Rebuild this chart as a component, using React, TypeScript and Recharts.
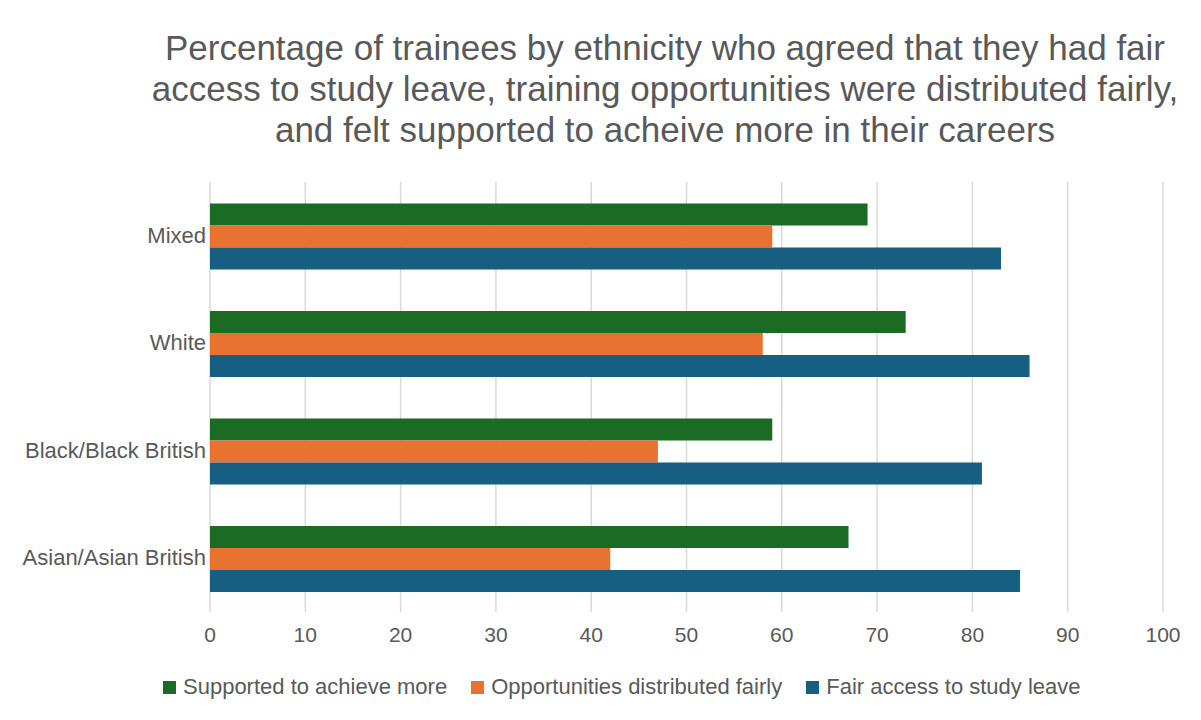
import React from 'react';
import { BarChart, Bar, XAxis, YAxis, CartesianGrid, Legend } from 'recharts';

const categories = ['Mixed', 'White', 'Black/Black British', 'Asian/Asian British'];
const supportedValues = [69, 73, 59, 67];
const opportunitiesValues = [59, 58, 47, 42];
const fairAccessValues = [83, 86, 81, 85];
const xTicks = [0, 10, 20, 30, 40, 50, 60, 70, 80, 90, 100];
const seriesNames = ['Supported to achieve more', 'Opportunities distributed fairly', 'Fair access to study leave'];
const seriesKeys = ['supported', 'opportunities', 'fairAccess'];
const seriesColors = ['#1B6B24', '#E87230', '#175F82'];
const titleLines = [
  'Percentage of trainees by ethnicity who agreed that they had fair',
  'access to study leave, training opportunities were distributed fairly,',
  'and felt supported to acheive more in their careers',
];

const data = categories.map((name, i) => ({
  name,
  supported: supportedValues[i],
  opportunities: opportunitiesValues[i],
  fairAccess: fairAccessValues[i],
}));

const FONT = '"Liberation Sans", Arial, Helvetica, sans-serif';
const TEXT = '#595959';

const LegendContent = () => (
  <div style={{ display: 'flex', justifyContent: 'flex-start', alignItems: 'center', paddingLeft: 163, fontFamily: FONT, fontSize: 22, color: TEXT }}>
    {seriesNames.map((n, i) => (
      <div key={n} style={{ display: 'flex', alignItems: 'center', marginRight: 24 }}>
        <span style={{ display: 'inline-block', width: 13, height: 13, background: seriesColors[i], marginRight: 7 }} />
        <span>{n}</span>
      </div>
    ))}
  </div>
);

export default function App() {
  return (
    <div style={{ position: 'relative', width: 1201, height: 720, margin: -8, background: '#fff', overflow: 'hidden', fontFamily: FONT }}>
      <div style={{ position: 'absolute', left: 6, top: 6, width: 1195, height: 2, background: '#e3e3e3' }} />
      <div style={{ position: 'absolute', left: 6, top: 6, width: 2, height: 714, background: '#e3e3e3' }} />
      <div style={{ position: 'absolute', left: 130, top: 27, width: 1070, textAlign: 'center', fontSize: 35, lineHeight: '41px', color: TEXT }}>
        {titleLines.map((l) => (
          <div key={l}>{l}</div>
        ))}
      </div>
      <div style={{ position: 'absolute', left: 0, top: 0 }}>
        <BarChart
          width={1201}
          height={720}
          data={data}
          layout="vertical"
          margin={{ top: 182, right: 38, bottom: 68, left: 0 }}
          barCategoryGap="20%"
          barGap={0}
        >
          <CartesianGrid horizontal={false} stroke="#d9d9d9" strokeWidth={1.5} />
          <XAxis
            type="number"
            domain={[0, 100]}
            ticks={xTicks}
            axisLine={false}
            tickLine={false}
            tickMargin={9}
            height={40}
            tick={{ fill: TEXT, fontSize: 21, fontFamily: FONT }}
            interval={0}
          />
          <YAxis
            type="category"
            dataKey="name"
            width={210}
            axisLine={false}
            tickLine={false}
            tickSize={0}
            tickMargin={4}
            tick={{ fill: TEXT, fontSize: 22, fontFamily: FONT, dy: -1 }}
            interval={0}
          />
          {seriesKeys.map((k, i) => (
            <Bar key={k} dataKey={k} name={seriesNames[i]} fill={seriesColors[i]} isAnimationActive={false} />
          ))}
          <Legend
            layout="horizontal"
            align="center"
            verticalAlign="middle"
            content={<LegendContent />}
            wrapperStyle={{ top: 674, left: 0, width: 1201 }}
          />
        </BarChart>
      </div>
    </div>
  );
}
